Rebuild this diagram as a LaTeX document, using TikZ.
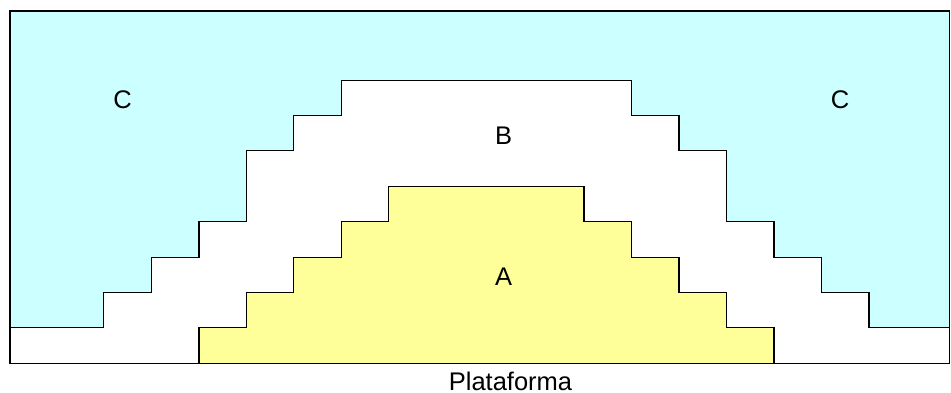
\documentclass[tikz,border=0pt]{standalone}
\usepackage{fontspec}
\setmainfont{Liberation Sans}
\definecolor{zonac}{HTML}{CCFFFF}
\definecolor{zonaa}{HTML}{FFFF99}

\begin{document}
\begin{tikzpicture}[x=1pt, y=-1pt, line width=1.3pt, line join=miter,
	rotulo/.style={inner sep=0pt, font=\fontsize{25.5}{30}\selectfont}]
				\useasboundingbox (0,0) rectangle (951,392);
				% zona C (fundo azul)
				\filldraw[fill=zonac] (10,11) -- (949.5,11) -- (949.5,327.7) -- (869,327.7) -- (869,292.7) -- (821.7,292.7) -- (821.7,257.7) -- (774,257.7) -- (774,221.3) -- (726.7,221.3) -- (726.7,150.7) -- (679,150.7) -- (679,115.7) -- (631.7,115.7) -- (631.7,80.7) -- (341.7,80.7) -- (341.7,115.7) -- (293.7,115.7) -- (293.7,150.7) -- (246.7,150.7) -- (246.7,221.3) -- (199,221.3) -- (199,257.7) -- (151.7,257.7) -- (151.7,292.7) -- (103.3,292.7) -- (103.3,327.7) -- (10,327.7) -- cycle;
				% zona A (escada amarela)
				\filldraw[fill=zonaa] (199,363.7) -- (199,327.7) -- (246.7,327.7) -- (246.7,292.7) -- (293.7,292.7) -- (293.7,257.7) -- (341.7,257.7) -- (341.7,221.3) -- (388.7,221.3) -- (388.7,186.7) -- (584,186.7) -- (584,221.3) -- (631.7,221.3) -- (631.7,257.7) -- (679,257.7) -- (679,292.7) -- (726.7,292.7) -- (726.7,327.7) -- (774,327.7) -- (774,363.7) -- cycle;
				% moldura
				\draw (10,11) rectangle (949.5,363.7);
				\node[rotulo] (Cesq)at(122.5, 99.5) {C};
				\node[rotulo] (Cdir)at(840, 99.5) {C};
				\node[rotulo] (B)at(503.5, 135.5) {B};
				\node[rotulo] (A)at(503.5, 276.5) {A};
				\node[rotulo] (plat)at(510.5, 381) {Plataforma};
			\end{tikzpicture}
\end{document}
